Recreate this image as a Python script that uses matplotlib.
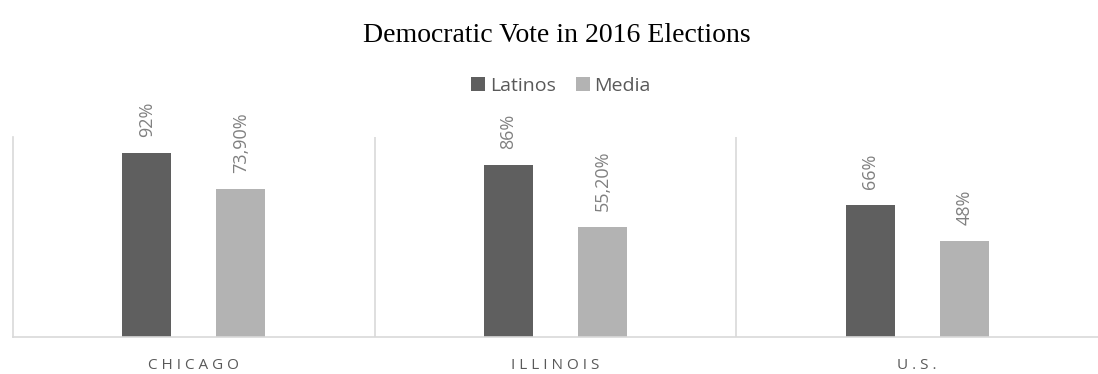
import matplotlib.pyplot as plt
import numpy as np

regions = ['CHICAGO', 'ILLINOIS', 'U.S.']
latinos = [92, 86, 66]
media = [73.9, 55.2, 48]
latinos_labels = ['92%', '86%', '66%']
media_labels = ['73,90%', '55,20%', '48%']

DARK = '#5f5f5f'
LIGHT = '#b3b3b3'
GRID = '#d9d9d9'
TEXT = '#595959'

fig = plt.figure(figsize=(10.98, 3.74), dpi=100)
ax = fig.add_axes([0.0118, 0.099, 0.9882, 0.535])

x = np.arange(len(regions))
w = 0.135
off = 0.13
b1 = ax.bar(x - off, latinos, w, color=DARK, label='Latinos')
b2 = ax.bar(x + off, media, w, color=LIGHT, label='Media')

# rotated value labels above each bar
for bars, labels in ((b1, latinos_labels), (b2, media_labels)):
    for rect, lab in zip(bars, labels):
        ax.annotate(lab, (rect.get_x() + rect.get_width() / 2, rect.get_height()),
                    xytext=(0, 11.5), textcoords='offset points', rotation=90,
                    ha='center', va='bottom', fontsize=13, color='#808080',
                    family='Open Sans', annotation_clip=False)

ax.set_xlim(-0.5, len(regions) - 0.5)
ax.set_ylim(0, 100)
ax.set_yticks([])
ax.set_xticks(x)
ax.set_xticklabels([' '.join(r) for r in regions], fontsize=11, color=TEXT, family='Open Sans')
ax.tick_params(axis='x', length=0, pad=15)
for s in ('top', 'right'):
    ax.spines[s].set_visible(False)
for s in ('left', 'bottom'):
    ax.spines[s].set_color(GRID)
    ax.spines[s].set_linewidth(1.2)
for sep in x[:-1] + 0.5:
    ax.axvline(sep, color=GRID, lw=1.2, zorder=0)

fig.text(0.507, 0.905, 'Democratic Vote in 2016 Elections', ha='center', va='center',
         fontsize=20, family='Liberation Serif', color='black')
fig.legend(handles=[b1, b2], loc='center', bbox_to_anchor=(0.511, 0.77), ncol=2, frameon=False,
           prop={'family': 'Open Sans', 'size': 14}, labelcolor=TEXT, handlelength=0.72,
           handleheight=0.72, handletextpad=0.25, columnspacing=1.0)

fig.savefig('out.png', dpi=100)
